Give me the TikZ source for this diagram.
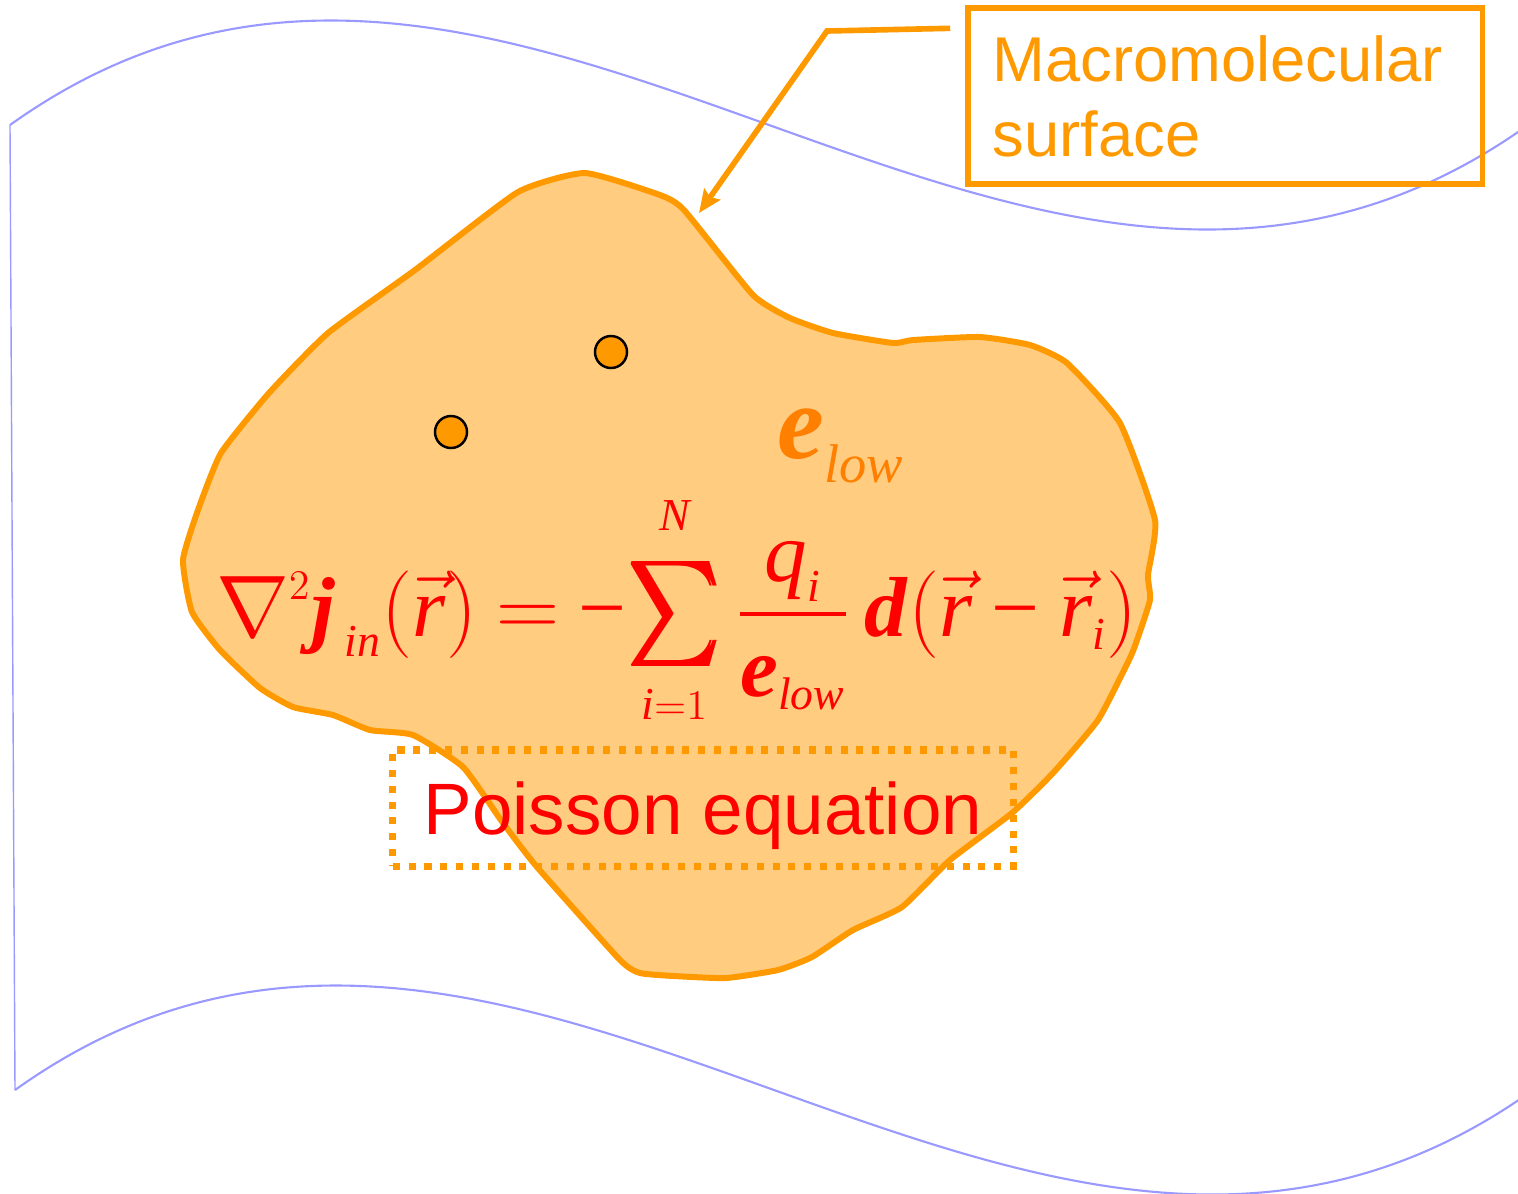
\documentclass[tikz,border=0pt]{standalone}
\usepackage{amsmath}
\usepackage{graphicx}
\usepackage{fontspec}
\setmainfont{Liberation Serif}
\setsansfont{Liberation Sans}
\usetikzlibrary{arrows.meta}
\definecolor{surforange}{HTML}{FF9900}
\definecolor{epsorange}{HTML}{FF8000}
\definecolor{waveblue}{HTML}{9999FF}
\definecolor{eqred}{HTML}{FF0000}
\DeclareMathSizes{24.2}{24.2}{13}{10}
\newcommand{\eqit}[1]{\textit{#1}}
\newcommand{\eqbf}[1]{\textbf{\textit{#1}}}
\newcommand{\eqminus}{\text{\char"2212}}
\newcommand{\sumglyph}{\scalebox{0.98}[1.2]{$\textstyle\sum$}}
\newcommand{\eqsum}{\mathop{\vcenter{\hbox{\rlap{\sumglyph}\kern0.6pt\rlap{\sumglyph}\kern0.6pt\sumglyph}}}\limits}

\begin{document}
\begin{tikzpicture}[x=0.01cm, y=-0.01cm,
    wave/.style={draw=waveblue, line width=0.6pt},
    surface/.style={draw=surforange, fill=surforange!50, line width=1.7pt, line join=round},
    charge/.style={circle, draw=black, fill=surforange, line width=0.7pt, minimum size=0.32cm, inner sep=0pt},
    labelbox/.style={draw=surforange, line width=1.5pt, text=surforange, align=left, inner sep=0pt,
      font=\sffamily\fontsize{18}{21.4}\selectfont},
    eqbox/.style={draw=surforange, line width=2pt, dash pattern=on 2pt off 2.5pt, text=eqred,
      inner sep=0pt, text depth=0pt, font=\sffamily\fontsize{20.7}{24}\selectfont},
    eqnode/.style={text=eqred, inner sep=0pt, font=\fontsize{24.2}{29}\selectfont},
    leader/.style={draw=surforange, line width=1.6pt, -{Stealth[length=6.5pt, width=5.5pt, inset=1pt]}}]
  \useasboundingbox (0,0) rectangle (1518,1193);
  \begin{scope}
    \clip (0,0) rectangle (1518,1193);
    \draw[wave] (10,125) .. controls (516,-237) and (1022,487) .. (1528,125);
    \draw[wave] (15,1090) .. controls (521,728) and (1027,1452) .. (1533,1090);
    \draw[wave, line width=0.4pt] (10,125) -- (15,1090);
  \end{scope}
  \draw[surface] plot[smooth cycle, tension=0.3] coordinates {
    (585,173) (660,195) (684,210) (753,295) (790,318) (833,333) (893,343) (913,340)
    (980,337) (1030,345) (1067,363) (1120,423) (1155,520) (1148,575) (1150,600)
    (1136,643) (1129,660) (1098,720) (1053,773) (1012,813) (950,860) (902,907)
    (853,930) (812,957) (778,970) (726,978) (674,976) (640,973) (620,960)
    (537,867) (503,823) (463,767) (413,735) (370,730) (333,715) (293,707)
    (260,688) (220,650) (192,612) (183,560) (198,510) (221,453) (269,393)
    (328,333) (415,270) (518,192)};
  \node[charge] (q1) at (611,352) {};
  \node[charge] (q2) at (451,432) {};
  \node[anchor=base west, inner sep=0pt, text=epsorange] (epslow) at (777,458)
    {{\fontsize{30}{30}\selectfont\bfseries\itshape e}\raisebox{-7pt}{\fontsize{15.5}{16}\selectfont\itshape low}};
  \node[eqnode, anchor=base] (poisson) at (677,636) {$\displaystyle\thickmuskip=4mu
    \nabla^{2}\eqbf{j}_{\;\eqit{in}}(\vec{\eqit{r}}) = \eqminus\!\eqsum_{\eqit{i}=1}^{\raisebox{4pt}{$\scriptstyle\eqit{N}$}}
    \frac{\raisebox{-4pt}[0.5em][0pt]{$\eqit{q}_{\eqit{i}}$}}{\eqbf{e}_{\eqit{low}}}\,
    \eqbf{d}(\vec{\eqit{r}}\mathbin{\eqminus}\vec{\eqit{r}}_{\eqit{i}})$};
  \node[eqbox, minimum width=6.2cm, minimum height=1.16cm] (poissonbox) at (703,808) {Poisson equation};
  \node[labelbox, minimum width=5.14cm, minimum height=1.76cm, text width=4.64cm] (surfbox) at (1225,96)
    {Macromolecular\\surface};
  \coordinate (leaderbend) at (827,31);
  \coordinate (surftip) at (699,213);
  \draw[leader] ([shift={(-15,23)}]surfbox.north west) -- (leaderbend) -- (surftip);
\end{tikzpicture}
\end{document}
